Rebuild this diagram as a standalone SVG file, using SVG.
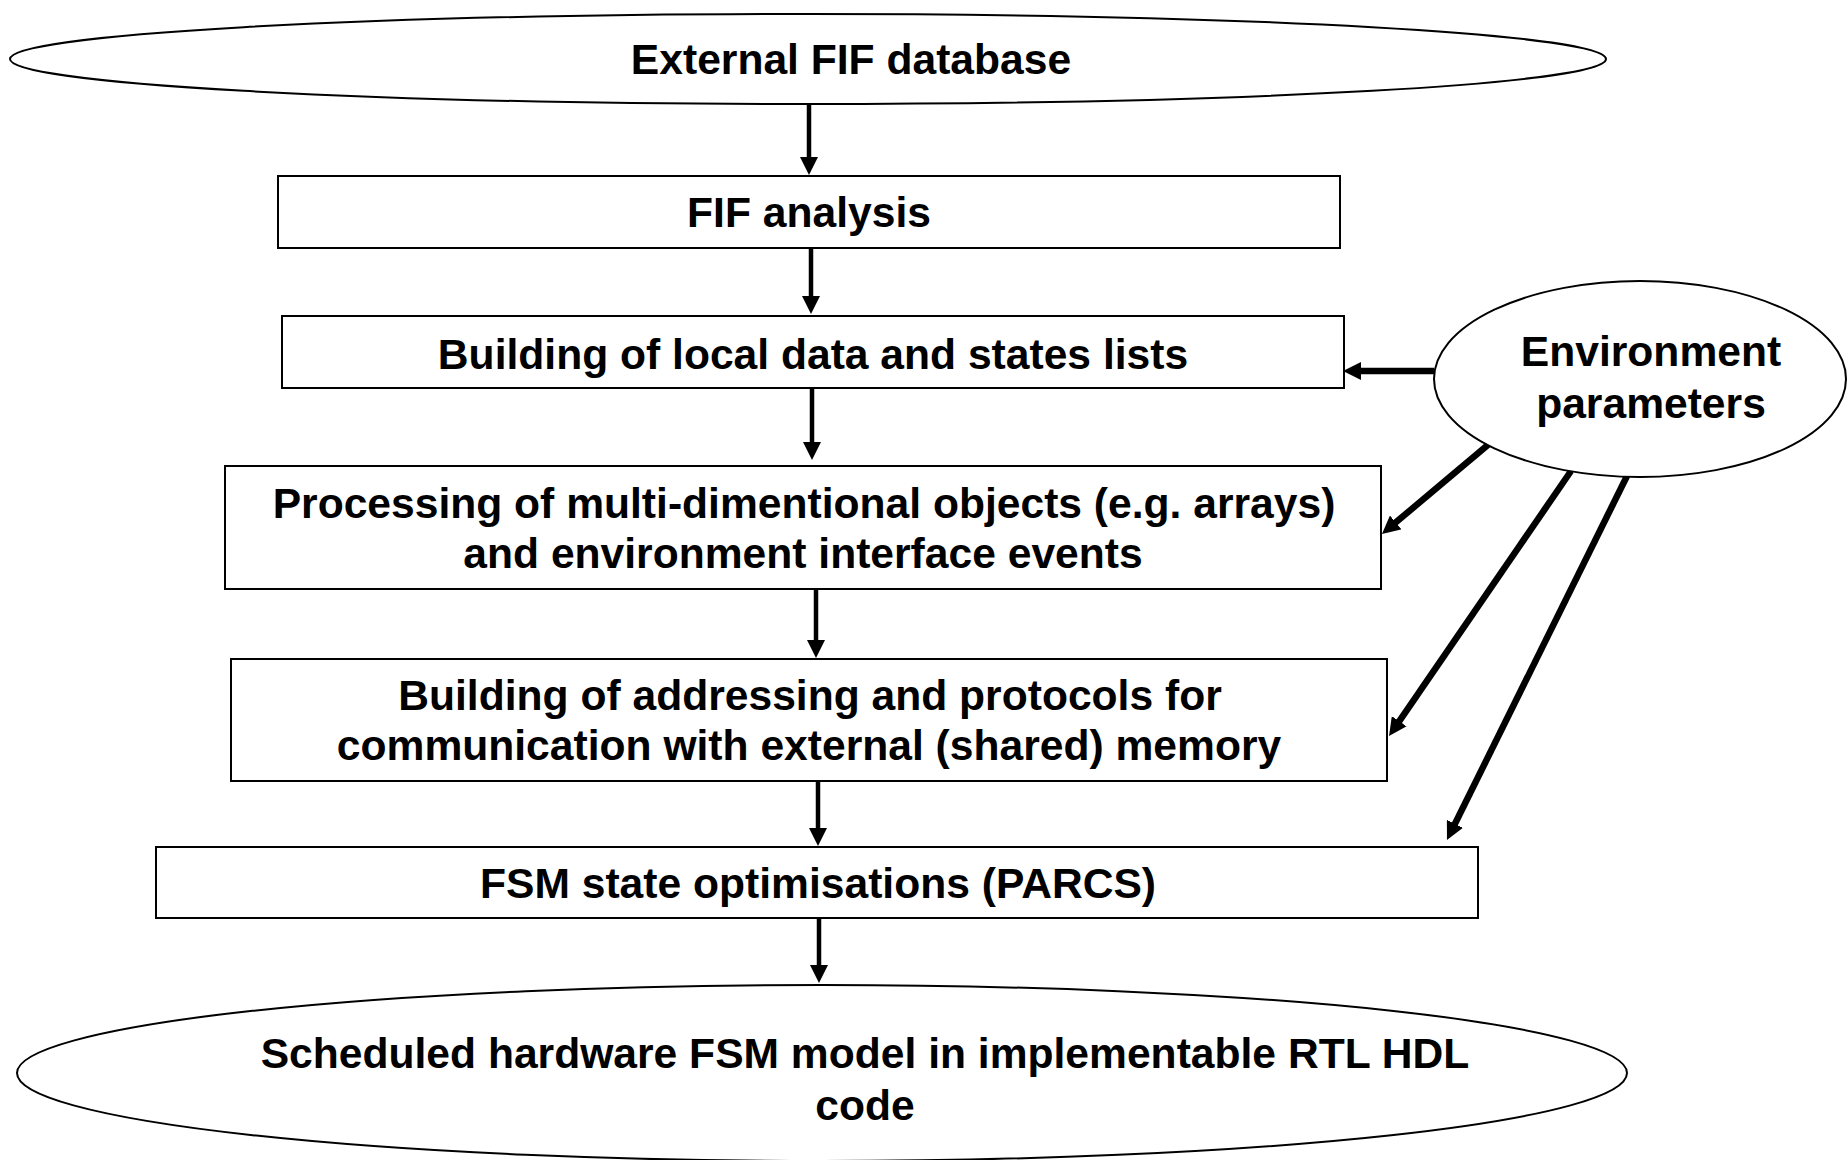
<svg xmlns="http://www.w3.org/2000/svg" width="1848" height="1160" viewBox="0 0 1848 1160">
  <style>
    .shape { fill: #ffffff; stroke: #000000; stroke-width: 2; }
    .label { font-family: "Liberation Sans", Arial, sans-serif; font-weight: bold; font-size: 42.6px; fill: #000000; text-anchor: middle; }
    .flow { stroke: #000000; stroke-width: 4.5; fill: none; marker-end: url(#head); }
    .param { stroke: #000000; stroke-width: 6.5; fill: none; marker-end: url(#head); }
  </style>
  <defs>
    <marker id="head" markerUnits="userSpaceOnUse" viewBox="0 0 18 18" refX="8" refY="9" markerWidth="18" markerHeight="18" orient="auto">
      <path d="M0,0 L18,9 L0,18 Z" fill="#000000"/>
    </marker>
  </defs>

  <rect width="1848" height="1160" fill="#ffffff"/>

  <g id="connectors">
    <line class="flow" x1="809" y1="104" x2="809" y2="165"/>
    <line class="flow" x1="811" y1="248" x2="811" y2="304"/>
    <line class="flow" x1="812" y1="389" x2="812" y2="450"/>
    <line class="flow" x1="816" y1="590" x2="816" y2="648"/>
    <line class="flow" x1="818" y1="781" x2="818" y2="836"/>
    <line class="flow" x1="819" y1="918" x2="819" y2="973"/>
    <line class="param" x1="1434" y1="371" x2="1353" y2="371"/>
    <line class="param" x1="1489" y1="444" x2="1389.6" y2="527.6"/>
    <line class="param" x1="1571" y1="471" x2="1394.7" y2="727.8"/>
    <line class="param" x1="1627" y1="476" x2="1451.4" y2="831"/>
  </g>

  <g id="external-fif-database">
    <ellipse class="shape" cx="808" cy="59" rx="798" ry="45"/>
    <text class="label" x="851" y="74">External FIF database</text>
  </g>

  <g id="fif-analysis">
    <rect class="shape" x="278" y="176" width="1062" height="72"/>
    <text class="label" x="809" y="227">FIF analysis</text>
  </g>

  <g id="local-data-states">
    <rect class="shape" x="282" y="316" width="1062" height="72"/>
    <text class="label" x="813" y="369">Building of local data and states lists</text>
  </g>

  <g id="environment-parameters">
    <ellipse class="shape" cx="1640" cy="379" rx="206" ry="98"/>
    <text class="label" x="1651" y="366">Environment</text>
    <text class="label" x="1651" y="418">parameters</text>
  </g>

  <g id="multi-dim-objects">
    <rect class="shape" x="225" y="466" width="1156" height="123"/>
    <text class="label" x="804" y="518">Processing of multi-dimentional objects (e.g. arrays)</text>
    <text class="label" x="803" y="568">and environment interface events</text>
  </g>

  <g id="addressing-protocols">
    <rect class="shape" x="231" y="659" width="1156" height="122"/>
    <text class="label" x="810" y="710">Building of addressing and protocols for</text>
    <text class="label" x="809" y="760">communication with external (shared) memory</text>
  </g>

  <g id="fsm-optimisations">
    <rect class="shape" x="156" y="847" width="1322" height="71"/>
    <text class="label" x="818" y="898">FSM state optimisations (PARCS)</text>
  </g>

  <g id="rtl-hdl-model">
    <ellipse class="shape" cx="822" cy="1073" rx="805" ry="88"/>
    <text class="label" x="865" y="1068">Scheduled hardware FSM model in implementable RTL HDL</text>
    <text class="label" x="865" y="1120">code</text>
  </g>
</svg>
